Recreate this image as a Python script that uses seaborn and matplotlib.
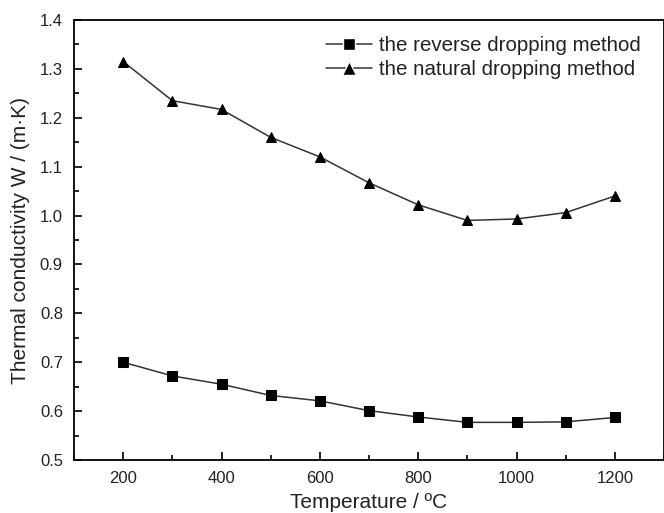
import matplotlib
matplotlib.use("Agg")
import matplotlib.pyplot as plt
import seaborn as sns
import pandas as pd
import numpy as np
from matplotlib.ticker import MultipleLocator

temperature = [200, 300, 400, 500, 600, 700, 800, 900, 1000, 1100, 1200]
reverse_vals = [0.700, 0.672, 0.655, 0.632, 0.621, 0.601, 0.588, 0.577, 0.577, 0.578, 0.587]
natural_vals = [1.315, 1.235, 1.217, 1.160, 1.120, 1.067, 1.022, 0.990, 0.993, 1.006, 1.040]
series_names = ["the reverse dropping method", "the natural dropping method"]

df = pd.DataFrame({
    "T": temperature * 2,
    "k": reverse_vals + natural_vals,
    "method": [series_names[0]] * len(temperature) + [series_names[1]] * len(temperature),
})

sns.set_style("ticks")
plt.rcParams['font.family'] = ['Liberation Sans', 'DejaVu Sans']
plt.rcParams['xtick.direction'] = 'in'
plt.rcParams['ytick.direction'] = 'in'

fig = plt.figure(figsize=(6.64, 5.13), dpi=100)
ax = fig.add_axes([74/664, 1 - 460/513, (664 - 74) / 664 * 1.0, 440/513])

sns.lineplot(data=df, x="T", y="k", hue="method", style="method",
             markers={series_names[0]: "s", series_names[1]: "^"},
             dashes=False, palette=["#111111", "#111111"], ax=ax,
             linewidth=1.1, markersize=7.5, markeredgecolor="black",
             markerfacecolor="black", legend=True)
for line in ax.lines:
    line.set_color("#333333")
    line.set_markerfacecolor("black")
    line.set_markeredgecolor("black")

ax.set_xlim(100, 1300)
ax.set_ylim(0.5, 1.4)
ax.xaxis.set_major_locator(MultipleLocator(200))
ax.xaxis.set_minor_locator(MultipleLocator(100))
ax.yaxis.set_major_locator(MultipleLocator(0.1))
ax.yaxis.set_minor_locator(MultipleLocator(0.05))
ax.yaxis.set_major_formatter(matplotlib.ticker.FormatStrFormatter('%.1f'))
ax.tick_params(which='major', length=6, width=1.2, labelsize=12, color='black', labelcolor='#222222', pad=8)
ax.tick_params(which='minor', length=3.5, width=1.2, color='black')
ax.tick_params(top=False, right=False, which='both')
for s in ax.spines.values():
    s.set_linewidth(1.3)
    s.set_color('black')

ax.set_xlabel("Temperature / ºC", fontsize=15, color='#222222', labelpad=5)
ax.set_ylabel("Thermal conductivity W / (m·K)", fontsize=15, color='#222222', labelpad=7)

leg = ax.legend(loc='upper right', frameon=False, fontsize=14.8, handlelength=2.25,
                handletextpad=0.35, labelspacing=0.25, borderaxespad=0.3,
                bbox_to_anchor=(0.985, 0.997))
for h, ms in zip(leg.legend_handles, [8.0, 9.5]):
    h.set_color("#333333")
    h.set_markerfacecolor("black")
    h.set_markeredgecolor("white")
    h.set_markeredgewidth(1.0)
    h.set_markersize(ms)
for t in leg.get_texts():
    t.set_color('#222222')

fig.savefig("out.png", dpi=100)
